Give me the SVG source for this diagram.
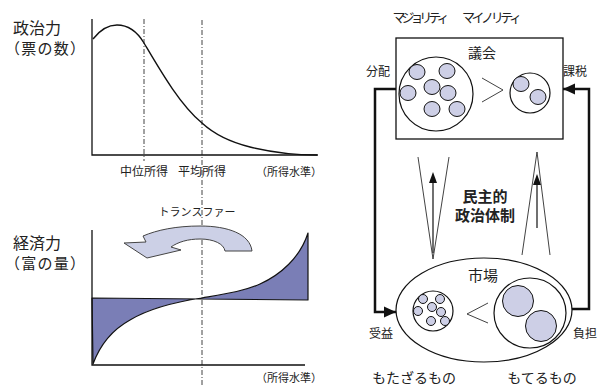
<svg xmlns="http://www.w3.org/2000/svg" width="606" height="387" viewBox="0 0 606 387">
<style>
text{font-family:"Noto Sans CJK JP","Noto Sans",sans-serif;fill:#222}
.ax{stroke:#111;stroke-width:1.3;fill:none}
.crv{stroke:#111;stroke-width:1.4;fill:none}
.dash{stroke:#111;stroke-width:0.8;stroke-dasharray:5,2,1,2;fill:none}
.thin{stroke:#111;stroke-width:0.8;fill:none}
.dot{fill:#cdcfe6;stroke:#111;stroke-width:1}
.ring{fill:#fff;stroke:#111;stroke-width:1.2}
.fb{stroke:#111;stroke-width:2.5;fill:none}
</style>
<defs>
<marker id="ahs" viewBox="0 0 10 10" refX="10" refY="5" markerWidth="12" markerHeight="12" orient="auto" markerUnits="userSpaceOnUse">
<path d="M0,0.5 L10,5 L0,9.5 Z" fill="#111"/>
</marker>
</defs>

<g id="political-chart">
<path class="ax" d="M92,19 V155 H318"/>
<path class="crv" d="M93,39 C100,30 108,25 117,25 C130,25 138,33 144,43 C160,70 180,105 202,123 C215,135 230,142 250,147 C275,153 295,155 317,155"/>
<line class="dash" x1="144" y1="19" x2="144" y2="161"/>
<text x="13" y="34" font-size="16">政治力</text>
<text x="5" y="54" font-size="15" textLength="80">（票の数）</text>
<text x="144" y="176" font-size="12" text-anchor="middle">中位所得</text>
<text x="202" y="176" font-size="12" text-anchor="middle">平均所得</text>
<text x="289" y="176" font-size="11" text-anchor="middle">（所得水準）</text>
</g>

<line id="mean-line" class="dash" x1="202" y1="20" x2="202" y2="385"/>

<g id="economic-chart">
<path d="M93,364 C100,345 112,330 130,320 C150,308 175,302 202,298 C225,294 245,291 260,284 C280,275 300,258 308,233 L308,300 L92,298 Z" fill="#7a7eb6" stroke="#111" stroke-width="1.2" stroke-linejoin="round"/>
<path class="ax" d="M92,230 V365 H305"/>
<path d="M252,251 C250,234 228,226 200,226 C176,226 157,230 143,236 L146,242 L124,243 L147,258 L181,250 L171,247 C178,242 188,239 200,239 C214,239 224,244 225,251 Z" fill="#ccd0e6" stroke="#444" stroke-width="1"/>
<text x="197" y="216" font-size="11" text-anchor="middle">トランスファー</text>
<text x="13" y="249" font-size="16">経済力</text>
<text x="5" y="269" font-size="15" textLength="80">（富の量）</text>
<text x="289" y="382" font-size="11" text-anchor="middle">（所得水準）</text>
</g>

<g id="connectors">
<path class="fb" d="M396,89 H375 V312 H396" marker-end="url(#ahs)"/>
<path class="fb" d="M571,309 H589 V89 H563" marker-end="url(#ahs)"/>
<path class="thin" d="M418,157 L433,259 L449,157"/>
<path class="thin" d="M522,255 L537,152 L550,255"/>
<line x1="433" y1="253" x2="433" y2="182" stroke="#111" stroke-width="1.2"/>
<path d="M433,172 L429,183 L437,183 Z" fill="#111"/>
<line x1="537" y1="228" x2="537" y2="184" stroke="#111" stroke-width="1.2"/>
<path d="M537,174 L533,185 L541,185 Z" fill="#111"/>
</g>

<g id="parliament">
<rect x="396" y="38" width="167" height="101" fill="#fff" stroke="#111" stroke-width="1.3"/>
<text x="482" y="58" font-size="14" text-anchor="middle">議会</text>
<circle class="ring" cx="436" cy="94" r="37"/>
<ellipse class="dot" cx="417" cy="72" rx="8" ry="7.5"/>
<ellipse class="dot" cx="447" cy="71" rx="8" ry="7.5"/>
<ellipse class="dot" cx="432" cy="87" rx="8" ry="7.5"/>
<ellipse class="dot" cx="408" cy="93" rx="8" ry="7.5"/>
<ellipse class="dot" cx="448" cy="93" rx="8" ry="7.5"/>
<ellipse class="dot" cx="432" cy="109" rx="8" ry="7.5"/>
<ellipse class="dot" cx="457" cy="109" rx="8" ry="7.5"/>
<path class="thin" d="M482,78 L503,90 L482,102"/>
<circle class="ring" cx="530" cy="93" r="20"/>
<ellipse class="dot" cx="521" cy="84" rx="8" ry="7.5"/>
<ellipse class="dot" cx="538" cy="97" rx="8" ry="7.5"/>
</g>

<g id="market">
<ellipse class="ring" cx="484" cy="310" rx="88" ry="52"/>
<text x="483" y="281" font-size="15" text-anchor="middle">市場</text>
<circle class="ring" cx="433" cy="311" r="20"/>
<circle class="dot" cx="423" cy="299" r="4.5"/>
<circle class="dot" cx="440" cy="299" r="4.5"/>
<circle class="dot" cx="418" cy="311" r="4.5"/>
<circle class="dot" cx="432" cy="307" r="4.5"/>
<circle class="dot" cx="441" cy="312" r="4.5"/>
<circle class="dot" cx="431" cy="321" r="4.5"/>
<circle class="dot" cx="445" cy="321" r="4.5"/>
<path class="thin" d="M488,303 L467,314 L488,323"/>
<ellipse class="ring" cx="530" cy="313" rx="36" ry="35"/>
<circle class="dot" cx="518" cy="301" r="15.5"/>
<circle class="dot" cx="541" cy="326" r="15.5"/>
</g>

<g id="labels">
<text x="421" y="22" font-size="13" text-anchor="middle" textLength="57">マジョリティ</text>
<text x="492" y="22" font-size="13" text-anchor="middle" textLength="60">マイノリティ</text>
<text x="378" y="76" font-size="12" text-anchor="middle">分配</text>
<text x="575" y="76" font-size="12" text-anchor="middle">課税</text>
<text x="381" y="338" font-size="12" text-anchor="middle">受益</text>
<text x="585" y="338" font-size="12" text-anchor="middle">負担</text>
<text x="485" y="202" font-size="15" font-weight="bold" text-anchor="middle">民主的</text>
<text x="485" y="221" font-size="15" font-weight="bold" text-anchor="middle">政治体制</text>
<text x="414" y="383" font-size="14" text-anchor="middle">もたざるもの</text>
<text x="542" y="383" font-size="14" text-anchor="middle">もてるもの</text>
</g>
</svg>
